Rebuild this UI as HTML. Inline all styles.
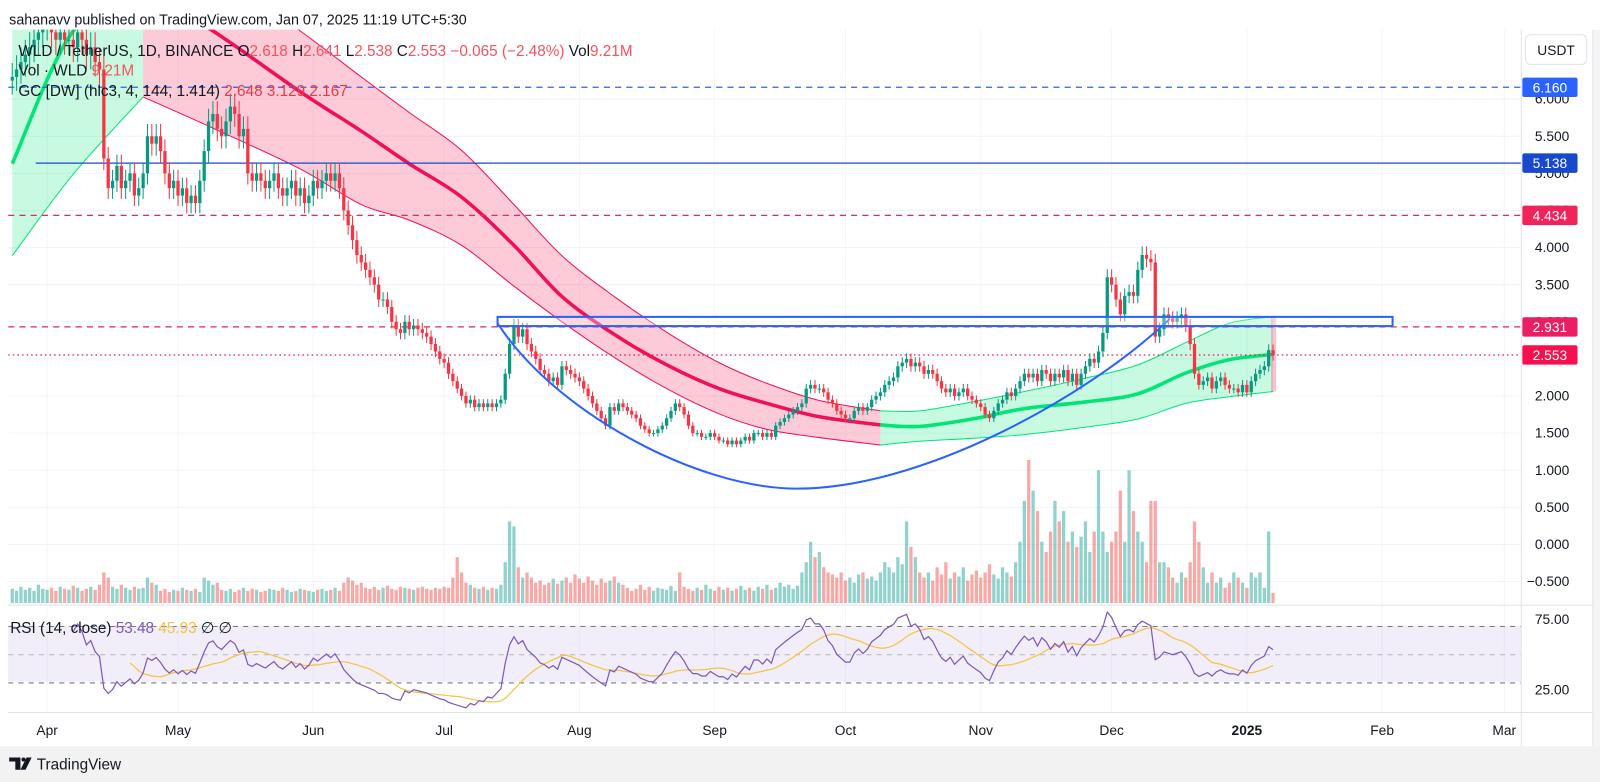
<!DOCTYPE html>
<html><head><meta charset="utf-8"><style>
html,body{margin:0;padding:0;background:#fff;width:1600px;height:782px;overflow:hidden}
svg{display:block}
text{font-family:"Liberation Sans",sans-serif}
</style></head><body>
<svg id="c" width="1600" height="782" viewBox="0 0 1566 765" preserveAspectRatio="none" xmlns="http://www.w3.org/2000/svg">
<defs><clipPath id="plot"><rect x="8" y="29" width="1481" height="561"/></clipPath>
<clipPath id="rsic"><rect x="8" y="593" width="1481" height="104"/></clipPath></defs>
<rect x="0" y="0" width="1566" height="765" fill="#fff"/>
<rect x="0" y="730" width="1566" height="35" fill="#f2f2f2"/>
<rect x="1559" y="29" width="7" height="701" fill="#f5f5f5"/>
<text x="9" y="24" font-size="14" fill="#131722">sahanavv published on TradingView.com, Jan 07, 2025 11:19 UTC+5:30</text>
<g id="grid"></g>
<rect x="8" y="612" width="1481" height="55" fill="rgba(126,87,194,0.10)"/>
<g id="gc" clip-path="url(#plot)"></g>
<g id="vol" clip-path="url(#plot)"></g>
<g id="levels" clip-path="url(#plot)"></g>
<g id="candles" clip-path="url(#plot)"></g>
<g id="draw" clip-path="url(#plot)">
<path d="M487,316 C540,400 680,478 780,478 C900,478 1060,392 1145,312" fill="none" stroke="#2962ff" stroke-width="2"/>
<rect x="487" y="310" width="876" height="9" fill="rgba(255,255,255,0.3)" stroke="#2962ff" stroke-width="2"/>
</g>
<g id="rsi" clip-path="url(#rsic)"></g>
<line x1="8" y1="592" x2="1559" y2="592" stroke="#e0e3eb" stroke-width="1"/>
<line x1="8" y1="697" x2="1559" y2="697" stroke="#e0e3eb" stroke-width="1"/>
<line x1="1489" y1="29" x2="1489" y2="730" stroke="#e0e3eb" stroke-width="1"/>
<line x1="1559" y1="29" x2="1559" y2="730" stroke="#e0e3eb" stroke-width="1"/>
<g id="axis"></g>
<g font-size="15" xml:space="preserve">
<text x="18" y="55" fill="#131722">WLD / TetherUS, 1D, BINANCE  O<tspan fill="#f7525f">2.618</tspan>  H<tspan fill="#f7525f">2.641</tspan>  L<tspan fill="#f7525f">2.538</tspan>  C<tspan fill="#f7525f">2.553</tspan>  <tspan fill="#f7525f">−0.065 (−2.48%)</tspan>  Vol<tspan fill="#f7525f">9.21M</tspan></text>
<text x="18" y="74" fill="#131722">Vol · WLD  <tspan fill="#f7525f">9.21M</tspan></text>
<text x="18" y="94" fill="#131722">GC [DW] (hlc3, 4, 144, 1.414)  <tspan fill="#f23645">2.648  3.129  2.167</tspan></text>
<text x="10" y="619" fill="#131722">RSI (14, close)  <tspan fill="#7e57c2">53.48</tspan>  <tspan fill="#f5c342">45.93</tspan>  ∅  ∅</text>
</g>
<rect x="1493" y="34" width="60" height="29" rx="5" fill="#fff" stroke="#e0e3eb"/>
<text x="1523" y="54" font-size="13.5" text-anchor="middle" fill="#131722">USDT</text>
<g>
<path d="M9,741 h11 v12 h-5 v-8 h-6z" fill="#131722"/><circle cx="23" cy="743" r="2" fill="#131722"/><path d="M26,741 h5 l-6,12 h-5z" fill="#131722"/>
<text x="36" y="753" font-size="15" fill="#131722">TradingView</text></g>
</svg>
<script>
const closes=[6.3,6.4,6.5,6.6,6.7,6.8,6.9,7.0,7.0,6.9,6.8,6.9,6.8,
6.8,6.7,6.9,6.8,6.6,6.7,6.5,6.4,
5.2,4.8,
4.9,5.1,4.8,4.9,5.0,4.7,4.8,5.0,
5.5,5.4,5.5,5.3,5.0,
4.8,4.9,4.7,4.8,4.6,4.7,4.6,
4.9,5.3,5.7,
5.8,5.6,5.5,5.7,5.9,5.8,5.5,5.6,
5.0,4.9,5.0,
4.9,4.8,4.9,5.0,4.8,4.7,4.8,4.9,4.7,4.8,4.6,4.7,4.9,4.8,4.9,5.0,4.9,5.0,4.8,
4.5,4.3,4.1,3.9,3.8,3.7,3.6,3.5,3.3,3.3,3.2,3.0,2.9,2.85,3.0,2.9,2.95,2.9,2.85,2.8,
2.7,2.6,2.5,2.45,2.3,2.2,2.1,2.0,1.9,1.95,1.85,1.9,1.85,1.9,1.85,1.9,1.95,
2.3,2.7,2.95,2.8,2.9,2.7,2.6,2.5,
2.35,2.3,2.2,2.25,2.15,2.4,2.35,2.3,2.25,2.2,
2.1,2.0,1.9,1.8,1.7,1.6,1.85,1.8,1.9,1.85,1.8,1.75,1.7,1.6,1.55,
1.5,1.5,1.55,1.6,1.7,1.8,1.9,1.85,1.75,1.6,1.5,1.5,1.45,1.45,1.5,
1.45,1.4,1.4,1.35,1.4,1.35,1.4,1.45,1.4,1.5,1.5,1.45,1.5,1.45,1.6,1.65,
1.7,1.75,1.8,1.85,1.9,2.1,2.15,2.1,2.1,2.05,1.95,1.9,1.8,1.75,
1.7,1.7,1.8,1.85,1.8,1.85,1.95,2.0,2.05,2.15,2.2,2.25,2.4,2.45,2.5,
2.4,2.45,2.4,2.3,2.35,2.3,2.2,2.1,2.05,2.1,2.0,2.05,2.1,2.0,1.95,
1.9,1.85,1.75,1.7,1.8,1.9,1.95,2.05,2.0,2.1,2.2,2.3,
2.25,2.3,2.2,2.35,2.3,2.2,2.3,2.25,2.35,2.2,2.3,2.15,2.3,2.4,2.5,2.45,
2.6,2.85,3.6,3.5,3.3,3.1,3.35,3.4,3.35,3.7,
3.9,3.85,3.8,2.8,2.9,
3.1,3.05,3.0,3.05,3.1,2.95,2.7,2.3,2.15,
2.2,2.25,2.1,2.2,2.25,2.15,2.1,2.1,2.05,2.15,2.05,2.2,2.3,2.35,2.4,2.618,2.553];
const volumes=[14,12,16,13,15,12,18,14,13,15,12,16,14,13,17,15,12,14,16,13,18,
30,25,16,14,18,15,13,16,14,15,25,20,18,
12,14,11,13,12,15,13,12,14,11,25,22,18,20,
13,12,14,11,13,15,12,14,13,11,12,14,13,12,15,13,11,12,14,13,12,11,13,14,12,13,15,12,
20,25,22,18,20,
15,14,16,13,15,17,14,13,16,15,14,13,15,16,14,13,15,14,16,15,
25,45,30,20,18,15,14,16,13,15,14,18,
40,80,75,35,25,30,25,20,22,18,20,24,19,
22,25,20,28,24,20,26,22,18,24,20,22,26,20,18,
15,12,14,18,13,16,12,15,14,13,17,12,30,16,14,12,15,13,18,14,12,16,13,15,12,14,17,13,15,12,16,14,18,13,15,20,16,18,14,17,
30,40,60,45,50,35,30,28,25,30,
22,25,20,28,30,24,26,22,
30,40,35,30,45,38,80,55,45,30,
25,30,22,35,28,40,24,30,26,35,22,28,32,25,30,38,28,24,35,30,26,40,
60,100,140,110,90,60,
50,70,100,80,90,60,70,55,65,
80,50,70,130,70,50,60,
70,110,60,130,90,70,
60,40,100,100,40,
40,35,25,20,30,25,40,80,60,
35,20,30,20,25,15,20,30,25,20,15,30,25,30,15,70,10];
const gcIdx=[0,14,30,46,66,80,91,103,115,126,138,150,162,173,185,199,208,220,232,246,258,269,279,289];
const gcUp=[8.71,8.16,8.16,7.75,6.92,6.30,5.82,5.31,4.58,3.89,3.34,2.86,2.45,2.17,1.94,1.80,1.80,1.92,2.06,2.24,2.42,2.72,2.98,3.07];
const gcMid=[5.13,6.92,7.47,6.92,6.10,5.57,5.13,4.68,4.03,3.34,2.83,2.42,2.10,1.90,1.72,1.61,1.59,1.69,1.83,1.92,2.03,2.31,2.49,2.56];
const gcLo=[3.89,4.99,6.03,5.61,5.06,4.58,4.37,4.03,3.48,3.00,2.52,2.10,1.76,1.55,1.44,1.34,1.39,1.43,1.48,1.58,1.69,1.90,1.99,2.06];
const trendBreaks=[30,199];
const priceTicks=["6.000","5.500","5.000","4.500","4.000","3.500","3.000","2.500","2.000","1.500","1.000","0.500","0.000","−0.500"];
const rsiTicks=["75.00","25.00"];
const months=["Apr","May","Jun","Jul","Aug","Sep","Oct","Nov","Dec","2025","Feb","Mar"];
const monthDayOffsets=[-281,-251,-220,-190,-159,-128,-98,-67,-37,-6,25,53];
const levelPrices=[6.160,5.138,4.434,2.931,2.553];
const levelColors=["#2962ff","#1848cc","#f0245a","#e91e63","#f7104e"];
const levelDash=["6,5","","6,5","6,5","1.5,3"];
const levelStart=[8,35,8,8,8];

const NS="http://www.w3.org/2000/svg";
const N=closes.length;
const xOf=i=>1246-(N-1-i)*4.27;
const xDay=d=>1246+d*4.27;
const yP=p=>97+(6-p)*72.6;
const yR=r=>606+(75-r)*69/50;
function mk(tag,attrs,parent){const e=document.createElementNS(NS,tag);for(const k in attrs)e.setAttribute(k,attrs[k]);parent.appendChild(e);return e;}
const G=id=>document.getElementById(id);

const grid=G('grid');
priceTicks.forEach((t,k)=>{const y=yP(6-k*0.5);
 const l=mk('line',{x1:8,x2:1489,y1:y,y2:y,stroke:'#f0f3fa','stroke-width':1},grid);
 
 });
months.forEach((m,k)=>{const x=xDay(monthDayOffsets[k]);
 const l=mk('line',{x1:x,x2:x,y1:29,y2:697,stroke:'#f3f5fa','stroke-width':1},grid);
 
 });

function smoothBody(pts){let d='';
 for(let i=0;i<pts.length-1;i++){const p0=pts[Math.max(0,i-1)],p1=pts[i],p2=pts[i+1],p3=pts[Math.min(pts.length-1,i+2)];
  d+=' C'+(p1[0]+(p2[0]-p0[0])/6)+','+(p1[1]+(p2[1]-p0[1])/6)+' '+(p2[0]-(p3[0]-p1[0])/6)+','+(p2[1]-(p3[1]-p1[1])/6)+' '+p2[0]+','+p2[1];}
 return d;}
function smooth(pts){return 'M'+pts[0][0]+','+pts[0][1]+smoothBody(pts);}
const gc=G('gc');
const segs=[[0,trendBreaks[0],'g'],[trendBreaks[0],trendBreaks[1],'r'],[trendBreaks[1],N-1,'g']];
segs.forEach(([a,b,c])=>{
 const ks=gcIdx.map((v,k)=>k).filter(k=>gcIdx[k]>=a&&gcIdx[k]<=b);
 const up=ks.map(k=>[xOf(gcIdx[k]),yP(gcUp[k])]);
 const mid=ks.map(k=>[xOf(gcIdx[k]),yP(gcMid[k])]);
 const lo=ks.map(k=>[xOf(gcIdx[k]),yP(gcLo[k])]);
 const fill=c==='g'?'rgba(0,230,118,0.22)':'rgba(242,54,100,0.26)';
 const line=c==='g'?'#00e676':'#f0105a';
 const loRev=lo.slice().reverse();
 const f=mk('path',{d:smooth(up)+' L'+loRev[0][0]+','+loRev[0][1]+smoothBody(loRev)+' Z',fill:fill,stroke:'none'},gc);
 
 
 const u=mk('path',{d:smooth(up),fill:'none',stroke:line,'stroke-width':1},gc);
 
 
 const l=mk('path',{d:smooth(lo),fill:'none',stroke:line,'stroke-width':1},gc);
 
 
 const m=mk('path',{d:smooth(mid),fill:'none',stroke:line,'stroke-width':3.5},gc);
 
 
});
const lastK=gcIdx.length-1;
const eb=mk('rect',{x:xOf(N-1)-2,y:yP(gcUp[lastK]),width:5,height:yP(gcLo[lastK])-yP(gcUp[lastK]),fill:'rgba(242,54,100,0.3)'},gc);



const lv=G('levels');
levelPrices.forEach((p,k)=>{const y=yP(p);
 const l=mk('line',{x1:levelStart[k],x2:1489,y1:y,y2:y,stroke:levelColors[k],'stroke-width':1.2,'stroke-dasharray':levelDash[k]},lv);
 
 });

const vg=G('vol'),cg=G('candles');
for(let i=0;i<N;i++){
 const o=i>0?closes[i-1]:closes[i]-0.05,c=closes[i],up=c>=o,x=xOf(i);
 const vr=mk('rect',{x:x-1.6,y:590-volumes[i],width:3.2,height:volumes[i],fill:up?'rgba(38,166,154,0.5)':'rgba(239,83,80,0.5)'},vg);
 
 
 const col=up?'#089981':'#f23645';
 const hi=Math.max(o,c)*1.03,lo=Math.min(o,c)*0.97;
 const w=mk('line',{x1:x,x2:x,y1:yP(hi),y2:yP(lo),stroke:col,'stroke-width':1},cg);
 
 
 const b=mk('rect',{x:x-1.6,y:yP(Math.max(o,c)),width:3.2,height:Math.max(1,Math.abs(yP(o)-yP(c))),fill:col},cg);
 
 
}

const rg=G('rsi');
[70,50,30].forEach(v=>{const l=mk('line',{x1:8,x2:1489,y1:yR(v),y2:yR(v),stroke:v===50?'#b2b5be':'#787b86','stroke-width':1,'stroke-dasharray':'5,5'},rg);
 
 });
const rsi=new Array(N).fill(null);let ag=0,al=0;
for(let i=1;i<N;i++){const d=closes[i]-closes[i-1],g=Math.max(d,0),l=Math.max(-d,0);
 if(i<=14){ag+=g/14;al+=l/14;}else{ag=(ag*13+g)/14;al=(al*13+l)/14;}
 if(i>=14)rsi[i]=al===0?100:100-100/(1+ag/al);}
const sig=rsi.map((v,i)=>{if(i<27)return null;let s=0;for(let j=i-13;j<=i;j++)s+=rsi[j];return s/14;});
function poly(arr){return arr.map((v,i)=>v==null?null:xOf(i)+','+yR(v)).filter(Boolean).join(' ');}
const sl=mk('polyline',{points:poly(sig),fill:'none',stroke:'#f5c342','stroke-width':1.2},rg);


const rl=mk('polyline',{points:poly(rsi),fill:'none',stroke:'#7e57c2','stroke-width':1.2},rg);



const ax=G('axis');
priceTicks.forEach((t,k)=>{const tx=mk('text',{x:1536,y:yP(6-k*0.5)+4.5,'font-size':13.5,'text-anchor':'end',fill:'#131722'},ax);tx.textContent=t;
 
 });
rsiTicks.forEach(t=>{const tx=mk('text',{x:1536,y:yR(parseFloat(t))+4.5,'font-size':13.5,'text-anchor':'end',fill:'#131722'},ax);tx.textContent=t;
 
 });
months.forEach((m,k)=>{const tx=mk('text',{x:xDay(monthDayOffsets[k]),y:719,'font-size':13.5,'text-anchor':'middle',fill:'#131722','font-weight':m==='2025'?'bold':'normal'},ax);tx.textContent=m;
 
 });
levelPrices.forEach((p,k)=>{const y=yP(p);
 const r=mk('rect',{x:1490,y:y-9.5,width:54,height:19,rx:2,fill:levelColors[k]},ax);
 
 
 const tx=mk('text',{x:1517,y:y+5,'font-size':13.5,'text-anchor':'middle',fill:'#fff'},ax);tx.textContent=p.toFixed(3);
 
 });
</script>
</body></html>
